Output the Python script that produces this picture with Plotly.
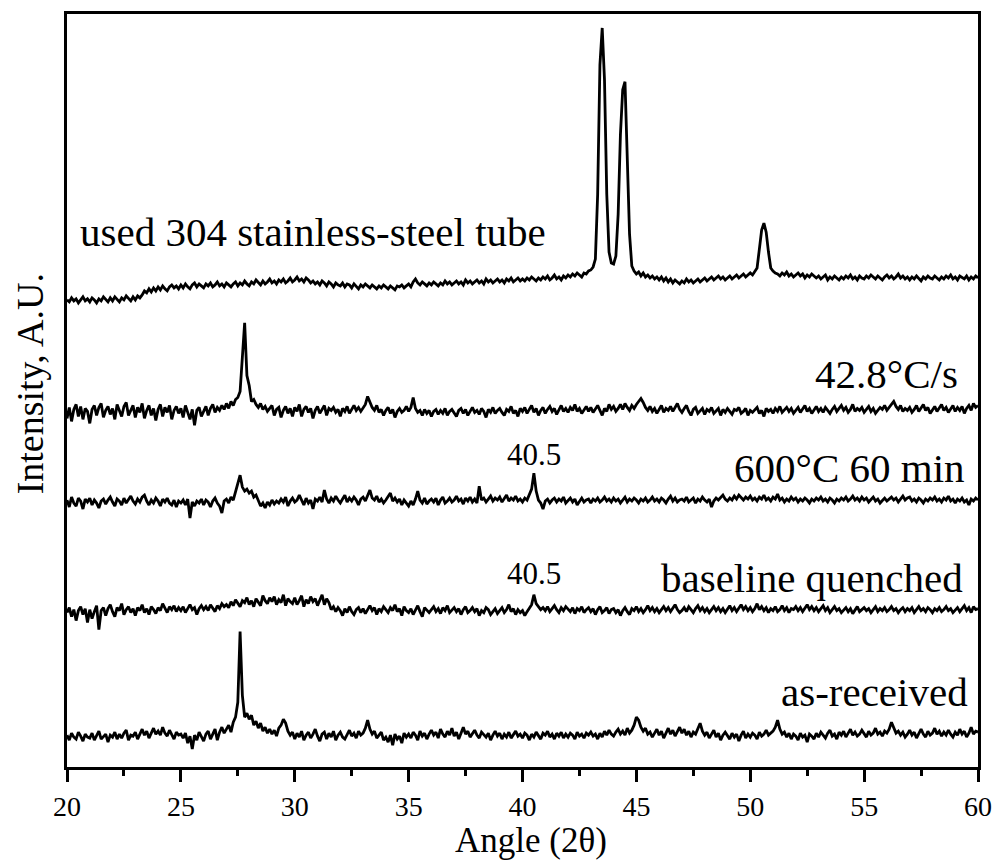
import plotly.graph_objects as go

# Diffraction angle grid (2-theta, degrees), 0.1 degree step
two_theta = [round(20 + 0.1 * i, 1) for i in range(401)]

# Intensity above each pattern's own baseline (arbitrary units)
as_received = [
    2, -3, 4, 0, -2, 5, 1, -4, 3, 0,
    -1, 4, -3, 2, 6, -2, 1, 3, -5, 2,
    0, 5, -2, 3, -1, 4, 7, -3, 2, 1,
    5, -2, 3, 8, 2, 6, -1, 4, 9, 3,
    6, 2, 10, 4, 1, 7, 3, -2, 5, 2,
    3, -1, 4, -6, 1, -12, 2, -3, 5, 0,
    -4, 3, 6, -2, 4, 8, -3, 5, 10, 4,
    8, 12, 5, 15, 20, 35, 106, 42, 20, 24,
    18, 22, 12, 16, 9, 14, 6, 10, 4, 8,
    3, 7, 1, 9, 12, 18, 14, 6, 2, 5,
    -2, 4, 0, 6, -3, 2, 5, -1, 3, 8,
    1, -4, 3, 5, -2, 4, 0, 6, -3, 2,
    5, 0, -2, 3, 7, 1, 4, -1, 6, 2,
    4, 9, 17, 8, 3, 6, -1, 2, 5, -3,
    0, -5, 2, -8, 3, -2, 1, -6, 4, 0,
    3, -1, 5, 2, -3, 6, 1, 4, -2, 3,
    7, 2, 5, -1, 8, 3, 0, 6, 2, 9,
    1, 5, -2, 4, 10, 3, 6, 0, 4, 7,
    2, -1, 5, 3, 0, 4, -3, 2, 6, 1,
    4, -2, 3, 0, 5, -1, 2, 6, 1, 3,
    -1, 4, 2, -3, 3, 0, 5, 1, -2, 4,
    2, 6, 0, 3, -2, 4, 1, 5, -1, 3,
    0, 4, 2, -2, 5, 1, 3, -1, 4, 2,
    5, 1, 3, -2, 4, 0, 6, 2, 7, 3,
    1, 5, 8, 3, 6, 2, 9, 4, 7, 12,
    20, 17, 10, 6, 9, 3, 5, 0, 4, 8,
    2, 6, -1, 4, 9, 3, 7, 1, 5, 10,
    4, 8, 2, 6, 0, 5, 3, 9, 14, 6,
    2, 5, -1, 3, 7, 0, 4, -3, 2, 5,
    1, -2, 4, 0, 3, -4, 2, 6, -1, 3,
    0, 4, 2, -2, 5, 1, 3, 7, 2, 4,
    6, 10, 17, 8, 3, 5, 0, 4, -2, 3,
    1, -3, 4, 0, 2, -5, 3, 1, -2, 4,
    0, 5, 2, -1, 4, 7, 1, 3, -2, 5,
    2, 6, 0, 4, 8, 2, 5, 1, 3, 7,
    3, 0, 6, 2, 4, 9, 3, 5, 1, 6,
    4, 8, 15, 9, 4, 6, 2, 5, 0, 3,
    7, 2, 5, -1, 4, 8, 3, 0, 6, 2,
    4, 9, 3, 6, 1, 5, 2, 7, 3, 0,
    5, 2, 8, 3, 6, 0, 4, 10, 3, 6,
    5,
]

baseline_quenched = [
    0, 5, -4, 3, -8, 2, 6, -2, 4, -10,
    3, -6, 1, 7, -17, 2, 5, -3, 4, 8,
    1, -4, 5, 2, 9, -2, 3, 6, 0, 4,
    -3, 5, 2, 8, 0, 4, -2, 6, 3, -1,
    5, 2, 9, 4, 0, 6, 3, 7, 1, 5,
    2, 6, 0, 4, 8, 3, 5, -2, 4, 7,
    3, 6, 2, 8, 5, 1, 7, 4, 9, 6,
    8, 5, 11, 7, 13, 9, 6, 12, 10, 15,
    8, 12, 6, 14, 10, 7, 17, 12, 9, 15,
    11, 16, 8, 13, 10, 18, 7, 14, 11, 9,
    15, 8, 12, 17, 6, 13, 9, 16, 11, 14,
    7, 12, 18, 8, 14, 10, 3, 6, 1, 5,
    2, -3, 4, 0, 6, 1, -2, 3, 5, 0,
    4, -1, 3, 7, 2, 5, -2, 4, 1, 6,
    3, 0, 5, 2, 8, 1, 4, -3, 6, 2,
    0, 4, -2, 3, 7, 1, -4, 5, 2, 0,
    3, 6, 1, 4, -1, 5, 2, 7, 0, 3,
    5, 1, 4, -2, 3, 6, 0, 2, 5, 1,
    4, -3, 2, 0, 5, 3, -2, 1, 4, -1,
    2, 5, 0, 3, 8, 1, 4, -2, 3, 0,
    2, -3, 1, 4, 8, 18, 9, 6, 3, 5,
    2, 6, 1, 4, 7, 3, 0, 5, 2, 6,
    3, 1, 5, -1, 4, 2, 6, 0, 3, 5,
    1, 4, -2, 3, 6, 0, 2, 5, -1, 3,
    4, 0, 3, -3, 2, 5, 1, -2, 4, 2,
    6, 1, 4, 0, 3, 7, 2, 5, 1, 4,
    0, 3, 6, 2, 5, 1, 4, 8, 3, 0,
    2, 5, 1, 6, 3, 0, 4, 7, 2, 5,
    1, 4, 0, 3, 6, 2, 5, 1, 4, 0,
    3, 7, 2, 5, 1, 4, 8, 3, 6, 2,
    5, 1, 4, 9, 3, 6, 2, 5, 0, 4,
    2, 6, 1, 3, 7, 2, 5, 0, 4, 3,
    6, 2, 5, 1, 4, 8, 3, 6, 2, 5,
    1, 4, 7, 2, 5, 0, 3, 6, 2, 4,
    0, 3, 5, 1, 4, -1, 2, 6, 1, 3,
    5, 2, 4, 0, 3, 6, 1, 4, 2, 5,
    1, 3, 6, 2, 4, 0, 3, 5, 1, 4,
    2, 5, 0, 3, 6, 2, 4, 1, 5, 3,
    0, 4, 2, 5, 1, 3, 6, 2, 4, 0,
    3, 5, 1, 4, 7, 2, 5, 0, 6, 3,
    4,
]

annealed_600c_60min = [
    3, -4, 6, 0, -3, 5, 2, -6, 4, 1,
    5, -2, 3, 0, -5, 2, 4, -1, 3, 6,
    1, -3, 4, 2, -2, 5, 0, 3, 7, 2,
    -1, 4, 1, 6, 8, 2, -2, 3, 0, 5,
    2, -3, 4, 1, 5, 0, -2, 3, -4, 2,
    0, 3, -2, 4, -15, 1, -3, 2, 0, 4,
    -2, 3, 1, -4, 2, 5, 0, -3, -10, 2,
    4, 0, 6, 3, 12, 20, 28, 16, 12, 14,
    10, 12, 6, 8, 2, -3, 0, -5, 1, -2,
    3, -1, 2, 0, 4, 1, 6, -3, 2, 5,
    1, 3, 8, 2, -2, 5, 0, 3, -6, 4,
    2, 6, 1, 13, 4, 0, 5, 2, 7, 3,
    0, 4, 8, 1, 5, 2, 6, 3, -2, 4,
    6, 2, 8, 13, 5, 3, 7, 1, 4, 0,
    3, 6, 10, 2, 5, 1, 4, -2, 3, 0,
    -3, 2, -2, 4, 12, 3, 0, 5, -1, 2,
    4, 1, 5, -2, 3, 6, 0, 2, 5, 1,
    3, 7, 2, 4, -1, 5, 2, 6, 1, 4,
    0, 17, 3, 5, 1, 4, 7, 2, 5, 3,
    6, 1, 4, 8, 2, 5, 3, 7, 2, 4,
    1, 5, 3, 8, 14, 30, 12, 3, 0, -6,
    2, 4, 0, 3, 5, 1, 4, 2, 6, 0,
    3, 5, 1, 4, -2, 2, 5, 1, 3, 4,
    0, 4, 2, 5, 1, 3, 6, 2, 4, 1,
    5, 2, 4, 0, 3, 6, 1, 4, 2, 5,
    3, 0, 4, 2, 5, 1, 3, 6, 2, 4,
    1, 5, 3, 0, 4, 7, 2, 5, 1, 3,
    4, 2, 6, 1, 3, 5, 0, 4, 2, 6,
    3, 1, 4, -4, 2, 5, 3, 6, 8, 4,
    2, 5, 3, 7, 4, 8, 5, 3, 6, 4,
    7, 3, 5, 2, 6, 4, 8, 3, 5, 2,
    6, 4, 9, 3, 5, 1, 4, 2, 6, 3,
    5, 1, 4, 2, 5, 3, 0, 4, 2, 5,
    3, 6, 2, 4, 1, 5, 3, 0, 4, 2,
    5, 3, 6, 2, 4, 7, 3, 5, 2, 6,
    3, 5, 1, 4, 6, 2, 4, 0, 3, 5,
    2, 4, 6, 3, 5, 1, 4, 7, 3, 5,
    6, 2, 4, 1, 5, 3, 0, 4, 2, 5,
    3, 6, 2, 4, 1, 5, 3, 7, 2, 4,
    0, 4, 2, 5, 1, 3, -2, 4, 2, 5,
    3,
]

cooled_42_8 = [
    -5, 6, -8, 4, 9, -3, 7, -6, 5, 2,
    -10, 4, 8, -2, 6, 10, -4, 3, 7, -1,
    5, -6, 9, 2, -3, 7, 11, -2, 4, 8,
    -4, 6, 1, 10, -5, 3, 8, -2, 5, -7,
    4, 9, -3, 6, 1, 8, -6, 3, 7, 0,
    5, -4, 8, 2, -6, 4, -12, 3, 6, -3,
    2, 7, -2, 5, 9, 1, 6, 3, 8, 4,
    10, 5, 12, 8, 14, 16, 22, 60, 91, 38,
    28, 12, 14, 9, 6, 10, 4, 7, 2, 5,
    8, -2, 4, 6, -4, 3, 7, 0, 5, -3,
    6, 2, 9, -3, 4, 7, 1, 5, -5, 3,
    7, 0, 4, 8, -2, 5, 3, 6, 1, 4,
    -3, 5, 2, 7, 0, 4, 8, 3, 6, 2,
    5, 9, 17, 12, 6, 3, 8, 1, 4, -2,
    3, 6, 0, 4, -4, 2, 5, 1, 3, 7,
    2, 6, 16, 5, 1, 3, -2, 4, 0, 3,
    -3, 2, 4, -1, 3, 0, 5, -2, 2, 4,
    1, -3, 3, 5, 0, 4, -2, 2, 6, 1,
    3, -1, 5, 2, -4, 4, 1, 6, 0, 3,
    5, 1, -2, 4, 2, 7, 0, 3, -3, 5,
    2, 6, 0, 4, 8, 1, 5, -2, 3, 6,
    0, 4, 7, 2, 5, -1, 3, 8, 2, 5,
    1, 6, 3, 9, 2, 5, 0, 4, 7, 2,
    6, 1, 4, 8, 3, -2, 5, 2, 9, 4,
    7, 2, 5, 9, 4, 10, 6, 3, 8, 5,
    9, 12, 15, 11, 6, 3, 7, 2, 5, 0,
    4, 8, 1, 5, 3, 7, 2, 6, 10, 4,
    1, 5, 8, 2, -2, 4, 6, 0, 3, 5,
    -1, 4, 2, 6, 0, 3, 5, -2, 4, 1,
    5, 2, -1, 4, 3, 6, 0, 2, 5, -2,
    3, 1, 4, 6, 0, 3, -3, 5, 2, 4,
    0, 5, 2, 7, 1, 4, 6, 2, 5, 0,
    3, 6, 1, 4, 8, 2, 5, 0, 4, 7,
    2, 5, 1, 6, 3, 0, 4, 7, 2, 5,
    8, 3, 6, 1, 4, 9, 2, 5, 3, 6,
    1, 4, 7, 2, 5, 0, 3, 6, 4, 8,
    3, 6, 9, 12, 7, 4, 8, 2, 5, 3,
    6, 1, 4, 8, 2, 5, 9, 3, 6, 0,
    4, 7, 2, 5, 9, 3, 6, 1, 4, 8,
    2, 6, 3, 7, 0, 5, 8, 3, 10, 6,
    8,
]

used_tube = [
    4, 2, 6, 3, 5, 1, 4, 7, 3, 5,
    2, 6, 4, 1, 5, 3, 7, 4, 2, 6,
    3, 7, 5, 2, 6, 4, 8, 5, 3, 7,
    4, 8, 6, 9, 13, 11, 15, 12, 16, 13,
    17, 14, 18, 15, 13, 17, 19, 16, 18, 15,
    19, 16, 20, 17, 15, 19, 21, 17, 20, 18,
    16, 20, 18, 21, 17, 19, 22, 18, 20, 17,
    21, 19, 17, 20, 22, 18, 21, 19, 23, 20,
    18, 22, 20, 24, 21, 19, 23, 20, 22, 25,
    21, 23, 20, 24, 22, 25, 21, 23, 26, 22,
    24, 27, 23, 25, 22, 26, 24, 21, 23, 20,
    22, 19, 23, 21, 18, 22, 20, 17, 21, 19,
    18, 21, 17, 20, 19, 16, 20, 18, 15, 19,
    17, 20, 18, 16, 19, 17, 15, 18, 16, 19,
    17, 15, 18, 16, 14, 18, 17, 19, 16, 18,
    20, 17, 22, 25, 21, 19, 22, 20, 18, 21,
    19, 22, 20, 18, 21, 19, 23, 20, 22, 19,
    21, 23, 20, 22, 19, 24, 21, 23, 20, 22,
    24, 21, 23, 20, 25, 22, 24, 21, 23, 25,
    22, 24, 21, 25, 23, 26, 22, 24, 26, 23,
    25, 23, 26, 24, 27, 25, 23, 26, 24, 27,
    25, 28, 24, 26, 29, 25, 27, 24, 28, 26,
    29, 27, 30, 28, 31, 29, 27, 31, 30, 33,
    34, 37, 45, 110, 240, 277, 225, 110, 52, 41,
    40, 48, 90, 170, 215, 223, 150, 70, 38, 33,
    30, 32, 28, 31, 27, 29, 26, 28, 25, 27,
    24, 27, 23, 26, 22, 25, 21, 24, 22, 20,
    23, 21, 25, 22, 24, 21, 23, 25, 22, 24,
    26, 23, 25, 27, 24, 26, 28, 25, 27, 24,
    26, 28, 25, 27, 29, 26, 28, 30, 27, 29,
    31, 29, 33, 36, 55, 74, 81, 72, 52, 36,
    33, 31, 30, 28, 31, 29, 32, 28, 30, 27,
    29, 31, 28, 30, 26, 29, 27, 30, 28, 26,
    28, 25, 27, 29, 24, 27, 25, 28, 26, 24,
    27, 25, 28, 26, 29, 25, 27, 24, 28, 26,
    25, 28, 26, 29, 27, 25, 28, 26, 24, 27,
    29, 26, 28, 25, 27, 30, 26, 28, 25, 27,
    24, 27, 25, 28, 26, 23, 27, 25, 28, 26,
    25, 28, 26, 24, 27, 25, 28, 26, 29, 25,
    27, 24, 28, 26, 25, 28, 24, 27, 25, 28,
    26,
]

# Vertical stacking offsets for each pattern (bottom to top)
patterns = [
    (as_received, 30),
    (baseline_quenched, 155),
    (annealed_600c_60min, 265),
    (cooled_42_8, 355),
    (used_tube, 465),
]

FONT = "Liberation Serif"

fig = go.Figure()
for values, offset in patterns:
    assert len(values) == len(two_theta)
    fig.add_trace(go.Scatter(
        x=two_theta,
        y=[v + offset for v in values],
        mode="lines",
        line=dict(color="black", width=2.8),
        showlegend=False,
        hoverinfo="skip",
    ))

# Pattern labels
labels = [
    ("used 304 stainless-steel tube", 20.48, 537, "left", 41),
    ("42.8°C/s", 59.21, 395, "right", 41),
    ("600°C 60 min", 59.52, 300, "right", 41),
    ("baseline quenched", 59.43, 190, "right", 41),
    ("as-received", 59.65, 75, "right", 41),
]
for text, x, y, anchor, size in labels:
    fig.add_annotation(x=x, y=y, text=text, showarrow=False,
                       xanchor=anchor, yanchor="middle",
                       font=dict(family=FONT, size=size, color="black"))

# Peak position markers
peak_angle = 40.5
for y in (314, 194):
    fig.add_annotation(x=peak_angle, y=y, text=f"{peak_angle}", showarrow=False,
                       xanchor="center", yanchor="middle",
                       font=dict(family=FONT, size=31, color="black"))

# Axis titles
fig.add_annotation(x=0.509, y=-0.098, xref="paper", yref="paper",
                   text="Angle (2θ)", showarrow=False,
                   xanchor="center", yanchor="middle",
                   font=dict(family=FONT, size=35, color="black"))
fig.add_annotation(x=-0.041, y=0.509, xref="paper", yref="paper",
                   text="Intensity, A.U.", showarrow=False, textangle=-90,
                   xanchor="center", yanchor="middle",
                   font=dict(family=FONT, size=38, color="black"))

fig.update_layout(
    width=1003,
    height=861,
    margin=dict(l=67, r=20, t=11, b=94),
    plot_bgcolor="white",
    paper_bgcolor="white",
    font=dict(family=FONT, color="black"),
    xaxis=dict(
        range=[20, 60],
        tick0=20,
        dtick=5,
        ticks="outside",
        ticklen=12,
        tickwidth=3,
        tickcolor="black",
        showline=True,
        linewidth=3,
        linecolor="black",
        mirror=True,
        showgrid=False,
        zeroline=False,
        tickfont=dict(family=FONT, size=28, color="black"),
        minor=dict(dtick=2.5, tick0=20, ticks="outside", ticklen=6,
                   tickwidth=3, tickcolor="black", showgrid=False),
    ),
    yaxis=dict(
        range=[0, 756],
        showticklabels=False,
        ticks="",
        showline=True,
        linewidth=3,
        linecolor="black",
        mirror=True,
        showgrid=False,
        zeroline=False,
    ),
)

fig.write_html("out.html")
